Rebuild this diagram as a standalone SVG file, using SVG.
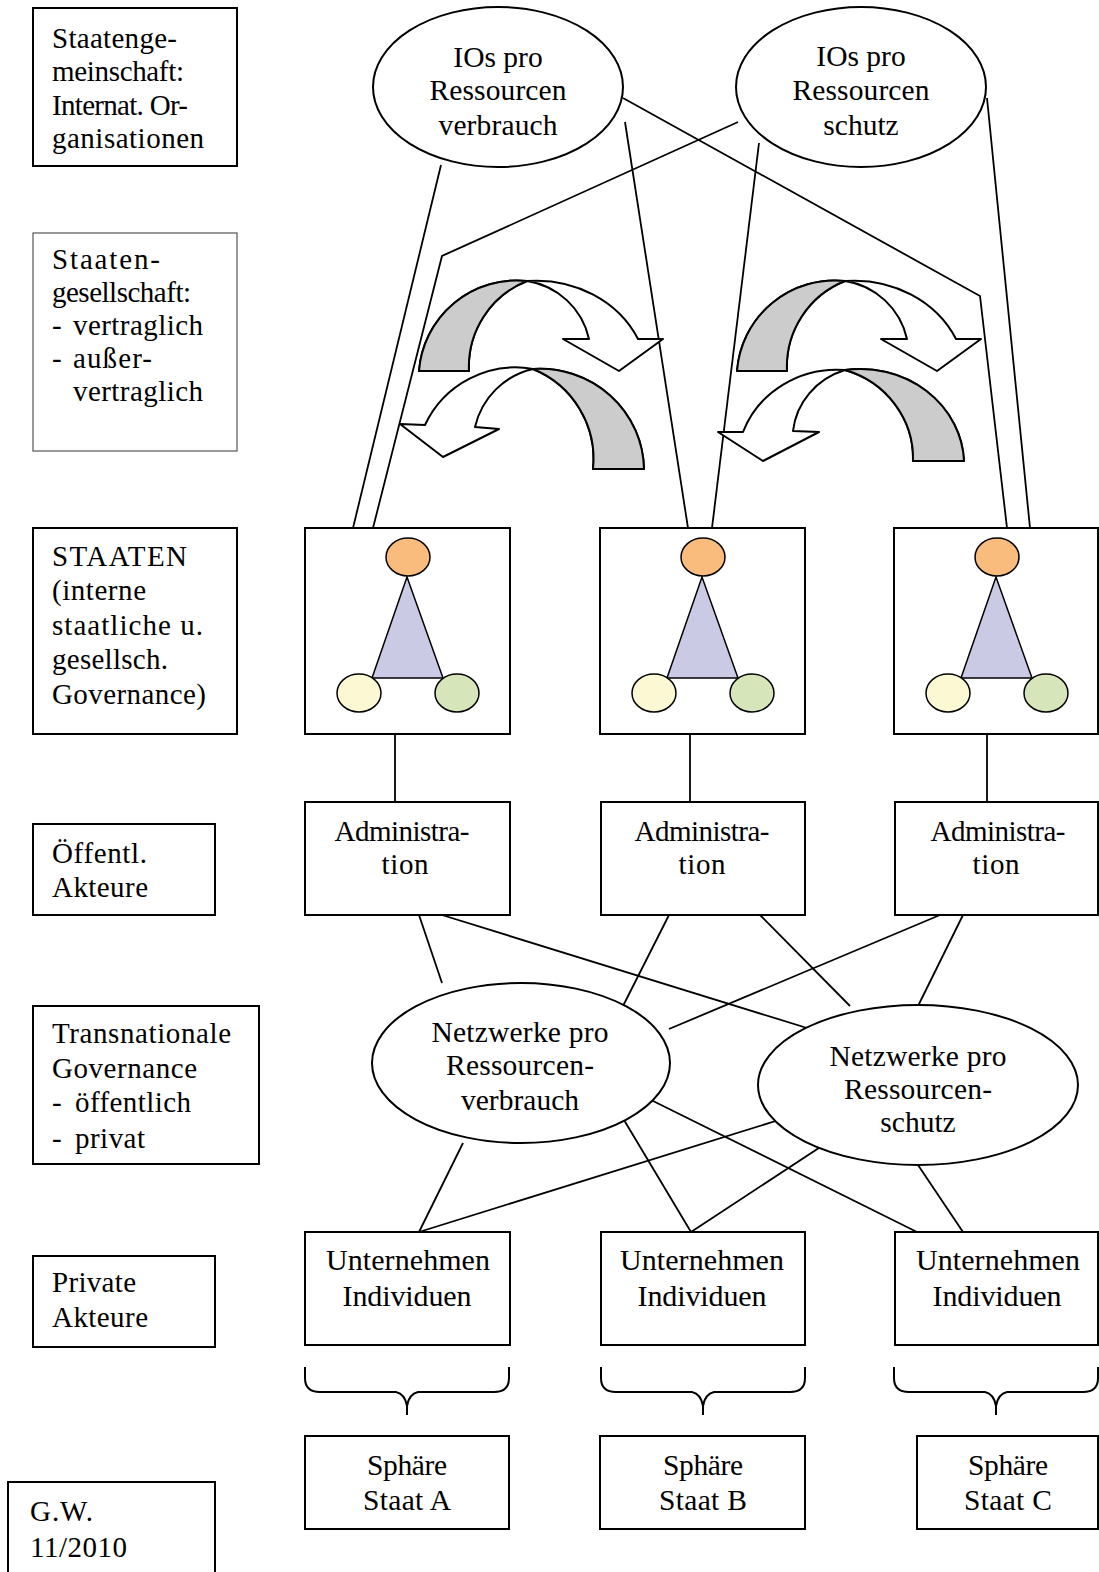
<svg xmlns="http://www.w3.org/2000/svg" width="1099" height="1572" viewBox="0 0 1099 1572">
<style>
text{font-family:"Liberation Serif","Times New Roman",serif;font-size:29px;fill:#000}
.c{text-anchor:middle}
.e{font-size:29.5px}
.u{font-size:30px}
.box{fill:#fff;stroke:#000;stroke-width:2}
.thin{fill:#fff;stroke:#555;stroke-width:1.2}
.ell{fill:#fff;stroke:#000;stroke-width:2}
.ln{fill:none;stroke:#000;stroke-width:1.8}
.wa{fill:#fff;stroke:#000;stroke-width:2;stroke-linejoin:round}
.ga{fill:#cccccc;stroke:#000;stroke-width:2;stroke-linejoin:round}
.br{fill:none;stroke:#000;stroke-width:2}
</style>
<defs>
<g id="gov">
<polygon points="407,577 372,678 443,678" fill="#cbcae5" stroke="#000" stroke-width="1.5"/>
<ellipse cx="408" cy="557" rx="22" ry="19" fill="#f9bc7c" stroke="#000" stroke-width="1.5"/>
<ellipse cx="359" cy="693" rx="22" ry="19" fill="#fbf8d3" stroke="#000" stroke-width="1.5"/>
<ellipse cx="457" cy="693" rx="22" ry="19" fill="#d6e5ba" stroke="#000" stroke-width="1.5"/>
</g>
<g id="upArrow">
<path class="wa" d="M419,371 A98,98 0 0 1 527,281 A112,100 0 0 1 638,339 L663,339 L619,371 L563,339 L589,339 A75,75 0 0 0 527,281 A92,92 0 0 0 469,371 Z"/>
<path class="ga" d="M419,371 A98,98 0 0 1 527,281 A92,92 0 0 0 469,371 Z"/>
</g>
<path id="brace" class="br" d="M305,1367 L305,1378 Q305,1392 320,1392 L396,1392 Q405,1394 407,1406 L407,1415 M407,1406 Q409,1394 418,1392 L494,1392 Q509,1392 509,1378 L509,1367"/>
</defs>

<g id="label-staatengemeinschaft">
<rect class="box" x="33" y="8" width="204" height="158"/>
<text x="52" y="48" textLength="125">Staatenge-</text>
<text x="52" y="81" textLength="132">meinschaft:</text>
<text x="52" y="115" textLength="136">Internat. Or-</text>
<text x="52" y="148" textLength="152">ganisationen</text>
</g>
<g id="label-staatengesellschaft">
<rect class="thin" x="33" y="233" width="204" height="218"/>
<text x="52" y="269" textLength="108">Staaten-</text>
<text x="52" y="302" textLength="139">gesellschaft:</text>
<text x="52" y="335">-</text><text x="73" y="335" textLength="130">vertraglich</text>
<text x="52" y="368">-</text><text x="73" y="368" textLength="79">außer-</text>
<text x="73" y="401" textLength="130">vertraglich</text>
</g>
<g id="label-staaten">
<rect class="box" x="33" y="528" width="204" height="206"/>
<text x="52" y="566" textLength="135">STAATEN</text>
<text x="52" y="600" textLength="94">(interne</text>
<text x="52" y="635" textLength="151">staatliche u.</text>
<text x="52" y="669" textLength="116">gesellsch.</text>
<text x="52" y="704" textLength="154">Governance)</text>
</g>
<g id="label-oeffentl">
<rect class="box" x="33" y="824" width="182" height="91"/>
<text x="52" y="863" textLength="95">Öffentl.</text>
<text x="52" y="897" textLength="96">Akteure</text>
</g>
<g id="label-transnational">
<rect class="box" x="33" y="1006" width="226" height="158"/>
<text x="52" y="1043" textLength="179">Transnationale</text>
<text x="52" y="1078" textLength="145">Governance</text>
<text x="52" y="1112">-</text><text x="75" y="1112" textLength="116">öffentlich</text>
<text x="52" y="1148">-</text><text x="75" y="1148" textLength="70">privat</text>
</g>
<g id="label-private">
<rect class="box" x="33" y="1256" width="182" height="91"/>
<text x="52" y="1292" textLength="84">Private</text>
<text x="52" y="1327" textLength="96">Akteure</text>
</g>
<g id="label-gw">
<rect class="box" x="8" y="1482" width="207" height="100"/>
<text x="30" y="1521" textLength="63">G.W.</text>
<text x="30" y="1557" textLength="97">11/2010</text>
</g>

<g id="connectors">
<polyline class="ln" points="441,165 353,528"/>
<polyline class="ln" points="373,528 442,256 738,122"/>
<polyline class="ln" points="625,122 688,528"/>
<polyline class="ln" points="623,98 980,296 1007,528"/>
<polyline class="ln" points="759,143 712,528"/>
<polyline class="ln" points="987,98 1030,528"/>
<line class="ln" x1="395" y1="734" x2="395" y2="802"/>
<line class="ln" x1="690" y1="734" x2="690" y2="802"/>
<line class="ln" x1="987" y1="734" x2="987" y2="802"/>
<line class="ln" x1="419" y1="915" x2="442" y2="983"/>
<line class="ln" x1="442" y1="915" x2="807" y2="1028"/>
<line class="ln" x1="669" y1="915" x2="623" y2="1006"/>
<line class="ln" x1="669" y1="1029" x2="940" y2="915"/>
<line class="ln" x1="760" y1="915" x2="850" y2="1006"/>
<line class="ln" x1="963" y1="915" x2="918" y2="1006"/>
<line class="ln" x1="463" y1="1143" x2="419" y2="1232"/>
<line class="ln" x1="419" y1="1232" x2="782" y2="1119"/>
<line class="ln" x1="645" y1="1097" x2="917" y2="1232"/>
<line class="ln" x1="624" y1="1120" x2="691" y2="1232"/>
<line class="ln" x1="691" y1="1232" x2="828" y2="1142"/>
<line class="ln" x1="918" y1="1165" x2="963" y2="1232"/>
</g>

<g id="arrows">
<use href="#upArrow"/>
<path class="wa" d="M644,469 A104,102 0 0 0 533,369 A100,100 0 0 0 425,425 L400,424 L443,457 L499,429 L475,427 A77,77 0 0 1 533,369 A97,97 0 0 1 593,469 Z"/>
<path class="ga" d="M644,469 A104,102 0 0 0 533,369 A97,97 0 0 1 593,469 Z"/>
<use href="#upArrow" transform="translate(318,0)"/>
<path class="wa" d="M964,461 A104,96 0 0 0 845,370 A100,96 0 0 0 743,432 L718,432 L763,461 L819,432 L793,431 A75,72 0 0 1 845,370 A95,92 0 0 1 913,461 Z"/>
<path class="ga" d="M964,461 A104,96 0 0 0 845,370 A95,92 0 0 1 913,461 Z"/>
</g>

<g id="io-verbrauch">
<ellipse class="ell" cx="498" cy="87" rx="125" ry="80"/>
<text class="c e" x="498" y="67">IOs pro</text>
<text class="c e" x="498" y="100" textLength="137">Ressourcen</text>
<text class="c e" x="498" y="135" textLength="119">verbrauch</text>
</g>
<g id="io-schutz">
<ellipse class="ell" cx="861" cy="87" rx="125" ry="80"/>
<text class="c e" x="861" y="66">IOs pro</text>
<text class="c e" x="861" y="100" textLength="137">Ressourcen</text>
<text class="c e" x="861" y="135">schutz</text>
</g>

<g id="staat-a">
<rect class="box" x="305" y="528" width="205" height="206"/>
<use href="#gov"/>
</g>
<g id="staat-b">
<rect class="box" x="600" y="528" width="205" height="206"/>
<use href="#gov" transform="translate(295,0)"/>
</g>
<g id="staat-c">
<rect class="box" x="894" y="528" width="204" height="206"/>
<use href="#gov" transform="translate(589,0)"/>
</g>

<g id="admin-a">
<rect class="box" x="305" y="802" width="205" height="113"/>
<text class="c" x="402" y="841" textLength="135">Administra-</text>
<text class="c" x="405" y="874" textLength="47">tion</text>
</g>
<g id="admin-b">
<rect class="box" x="601" y="802" width="204" height="113"/>
<text class="c" x="702" y="841" textLength="135">Administra-</text>
<text class="c" x="702" y="874" textLength="47">tion</text>
</g>
<g id="admin-c">
<rect class="box" x="895" y="802" width="203" height="113"/>
<text class="c" x="998" y="841" textLength="135">Administra-</text>
<text class="c" x="996" y="874" textLength="47">tion</text>
</g>

<g id="netz-verbrauch">
<ellipse class="ell" cx="521" cy="1063" rx="149" ry="80"/>
<text class="c e" x="520" y="1042" textLength="177">Netzwerke pro</text>
<text class="c e" x="520" y="1075" textLength="148">Ressourcen-</text>
<text class="c e" x="520" y="1110" textLength="118">verbrauch</text>
</g>
<g id="netz-schutz">
<ellipse class="ell" cx="918" cy="1085" rx="160" ry="80"/>
<text class="c e" x="918" y="1066" textLength="177">Netzwerke pro</text>
<text class="c e" x="918" y="1099" textLength="148">Ressourcen-</text>
<text class="c e" x="918" y="1132">schutz</text>
</g>

<g id="privat-a">
<rect class="box" x="305" y="1232" width="205" height="113"/>
<text class="c u" x="408" y="1270" textLength="164">Unternehmen</text>
<text class="c u" x="407" y="1306" textLength="129">Individuen</text>
</g>
<g id="privat-b">
<rect class="box" x="601" y="1232" width="204" height="113"/>
<text class="c u" x="702" y="1270" textLength="164">Unternehmen</text>
<text class="c u" x="702" y="1306" textLength="129">Individuen</text>
</g>
<g id="privat-c">
<rect class="box" x="895" y="1232" width="203" height="113"/>
<text class="c u" x="998" y="1270" textLength="164">Unternehmen</text>
<text class="c u" x="997" y="1306" textLength="129">Individuen</text>
</g>

<g id="braces">
<use href="#brace"/>
<use href="#brace" transform="translate(296,0)"/>
<use href="#brace" transform="translate(589,0)"/>
</g>

<g id="sphaere-a">
<rect class="box" x="305" y="1436" width="204" height="93"/>
<text class="c e" x="407" y="1475" textLength="80">Sphäre</text>
<text class="c e" x="407" y="1510" textLength="88">Staat A</text>
</g>
<g id="sphaere-b">
<rect class="box" x="600" y="1436" width="205" height="93"/>
<text class="c e" x="703" y="1475" textLength="80">Sphäre</text>
<text class="c e" x="703" y="1510" textLength="88">Staat B</text>
</g>
<g id="sphaere-c">
<rect class="box" x="917" y="1436" width="181" height="93"/>
<text class="c e" x="1008" y="1475" textLength="80">Sphäre</text>
<text class="c e" x="1008" y="1510" textLength="88">Staat C</text>
</g>
</svg>
